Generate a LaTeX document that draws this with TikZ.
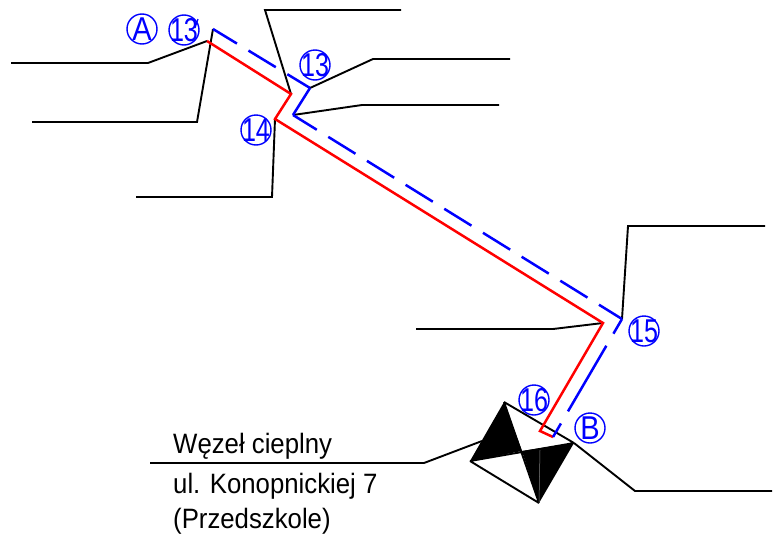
\documentclass[tikz,border=0pt]{standalone}
\usepackage{fontspec}
\setmainfont{Liberation Sans}
\tikzset{
  x=1pt,y=-1pt,
  wire/.style={draw=black,line width=1.9pt,line join=miter},
  redline/.style={draw=red,line width=2.5pt},
  bluedash/.style={draw=blue,line width=2.5pt,dash pattern=on 32pt off 13.5pt,dash phase=4pt},
  bluetail/.style={draw=blue,line width=2.5pt,dash pattern=on 17pt off 14pt on 76pt off 14pt on 16pt off 20pt},
  bluesolid/.style={draw=blue,line width=2.5pt},
  tag/.style={draw=blue,circle,line width=1.4pt,minimum size=30pt,inner sep=0pt},
  tagtext/.style={text=blue,font=\fontsize{33}{33}\selectfont,xscale=.76,inner sep=0pt},
  lettext/.style={text=blue,font=\fontsize{33}{33}\selectfont,xscale=.88,inner sep=0pt},
  caption/.style={anchor=base west,inner sep=0pt,font=\fontsize{28}{28}\selectfont,xscale=.92}
}
\begin{document}
\begin{tikzpicture}
\useasboundingbox (0,0) rectangle (779,533);
\fill[white] (0,0) rectangle (779,533);
% key points
\coordinate (a) at (207,41);
\coordinate (b) at (213,29);
\coordinate (c) at (291,94);
\coordinate (d) at (275,119);
\coordinate (e) at (310,88);
\coordinate (f) at (293,115);
\coordinate (g) at (603,323);
\coordinate (h) at (622,319);
\coordinate (i) at (540,431);
\coordinate (j) at (553,437);
\coordinate (st) at (504,402);
\coordinate (sl) at (470,461);
\coordinate (sb) at (539,503);
\coordinate (sr) at (574,443);
\coordinate (sc) at (522,451);
% black leaders
\draw[wire] (11,63) -- (148,63) -- (a);
\draw[wire] (32,122) -- (197,122) -- (b);
\draw[wire] (401,10) -- (265,10) -- (c);
\draw[wire] (510,59) -- (373,59) -- (e);
\draw[wire] (499,105) -- (362,105) -- (f);
\draw[wire] (136,197) -- (272,197) -- (d);
\draw[wire] (765,226) -- (628,226) -- (h);
\draw[wire] (416,329) -- (553,329) -- (g);
\draw[wire] (150,463) -- (424,463) -- (482,441);
\draw[wire] (772,491) -- (635,491) -- (sr);
% symbol
\fill[black] (st) -- (sl) -- (sc) -- cycle;
\fill[black] (sr) -- (sb) -- (sc) -- cycle;
\draw[wire] (st) -- (sr) (sl) -- (sb) (sl) -- (sr) (st) -- (sb);
\draw[gray,line width=.5pt] (540,450) -- (sb);
% pipes
\draw[redline,line join=miter] (a) -- (c) -- (d) -- (g) -- (i) -- (j);
\draw[bluedash] (b) -- (e);
\draw[bluesolid] (e) -- (f);
\draw[bluedash] (f) -- (h);
\draw[bluetail] (h) -- (j);
% tags
\node[tag] (ca) at (142,29) {};
\node[lettext] (ta) at (142,29) {A};
\node[tag] (c13a) at (184,30) {};
\node[tagtext] (t13a) at (184,30) {13};
\draw[blue,line width=1.2pt] (198,19) -- (195,28);
\node[tag] (c13b) at (315,65) {};
\node[tagtext] (t13b) at (315,65) {13};
\node[tag] (c14) at (256,130) {};
\node[tagtext] (t14) at (256,130) {14};
\node[tag] (c15) at (644,331) {};
\node[tagtext] (t15) at (644,331) {15};
\node[tag] (c16) at (534,400) {};
\node[tagtext] (t16) at (534,400) {16};
\node[tag] (cb) at (590,428) {};
\node[lettext] (tb) at (590,428) {B};
% caption
\node[caption] (l1) at (173,453) {Węzeł cieplny};
\node[caption] (l2) at (173,493) {ul. Konopnickiej 7};
\node[caption] (l3) at (173,528) {(Przedszkole)};
\end{tikzpicture}
\end{document}
